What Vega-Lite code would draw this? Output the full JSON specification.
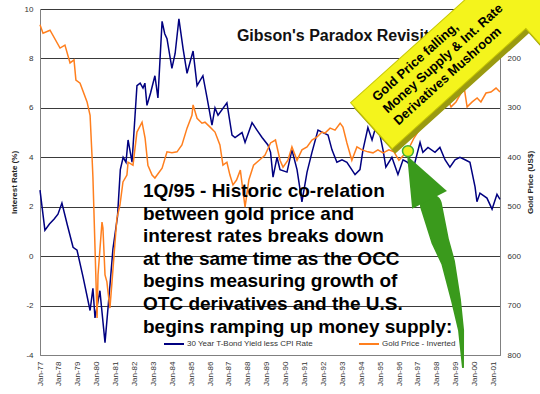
{
  "$schema": "https://vega.github.io/schema/vega-lite/v6.json",
  "width": 460,
  "height": 346,
  "autosize": "none",
  "padding": {"left": 40, "top": 9, "right": 40, "bottom": 39},
  "background": "white",
  "config": {
    "view": {"stroke": null},
    "font": "Liberation Sans",
    "axis": {"labelColor": "#333333", "titleColor": "#222222", "domainColor": "#808080", "ticks": false, "labelFontSize": 8, "titleFontSize": 8, "titleFontWeight": "bold"},
    "axisX": {"labelOverlap": false, "labelSeparation": 0, "labelBound": false}
  },
  "datasets": {
    "blue": [
      {"year":1977.00,"rate":2.67},{"year":1977.26,"rate":1.05},{"year":1977.50,"rate":1.3},{"year":1977.75,"rate":1.5},
      {"year":1977.95,"rate":1.7},{"year":1978.16,"rate":2.15},{"year":1978.45,"rate":1.25},{"year":1978.75,"rate":0.36},
      {"year":1978.96,"rate":0.24},{"year":1979.28,"rate":-0.85},{"year":1979.65,"rate":-2.2},{"year":1979.80,"rate":-1.3},
      {"year":1979.91,"rate":-2.5},{"year":1980.17,"rate":-1.4},{"year":1980.44,"rate":-3.5},{"year":1980.70,"rate":-1.2},
      {"year":1980.86,"rate":0.3},{"year":1981.10,"rate":1.6},{"year":1981.25,"rate":3.5},{"year":1981.40,"rate":4.0},
      {"year":1981.55,"rate":3.8},{"year":1981.66,"rate":4.7},{"year":1981.87,"rate":3.8},{"year":1982.13,"rate":6.9},
      {"year":1982.30,"rate":7.0},{"year":1982.45,"rate":6.8},{"year":1982.55,"rate":7.0},{"year":1982.66,"rate":6.1},
      {"year":1982.85,"rate":6.6},{"year":1983.08,"rate":7.3},{"year":1983.24,"rate":6.4},{"year":1983.46,"rate":9.5},
      {"year":1983.60,"rate":9.0},{"year":1983.72,"rate":8.8},{"year":1983.98,"rate":7.6},{"year":1984.15,"rate":8.2},
      {"year":1984.35,"rate":9.6},{"year":1984.57,"rate":8.4},{"year":1984.78,"rate":7.4},{"year":1985.10,"rate":8.3},
      {"year":1985.31,"rate":6.9},{"year":1985.62,"rate":7.3},{"year":1985.84,"rate":6.4},{"year":1986.10,"rate":5.3},
      {"year":1986.26,"rate":6.0},{"year":1986.42,"rate":5.7},{"year":1986.89,"rate":6.2},{"year":1987.16,"rate":4.9},
      {"year":1987.32,"rate":4.8},{"year":1987.69,"rate":5.0},{"year":1987.85,"rate":4.6},{"year":1988.22,"rate":5.4},
      {"year":1988.48,"rate":5.1},{"year":1988.75,"rate":4.8},{"year":1989.06,"rate":4.5},{"year":1989.20,"rate":4.2},
      {"year":1989.33,"rate":3.2},{"year":1989.54,"rate":4.0},{"year":1989.70,"rate":3.5},{"year":1990.07,"rate":3.4},
      {"year":1990.33,"rate":4.3},{"year":1990.60,"rate":3.5},{"year":1990.86,"rate":2.2},{"year":1991.13,"rate":3.4},
      {"year":1991.39,"rate":4.2},{"year":1991.71,"rate":5.1},{"year":1991.97,"rate":5.0},{"year":1992.24,"rate":4.9},
      {"year":1992.45,"rate":4.3},{"year":1992.71,"rate":3.8},{"year":1992.98,"rate":3.9},{"year":1993.24,"rate":3.8},
      {"year":1993.67,"rate":3.3},{"year":1993.93,"rate":3.5},{"year":1994.09,"rate":4.3},{"year":1994.35,"rate":5.2},
      {"year":1994.57,"rate":4.7},{"year":1994.83,"rate":5.4},{"year":1994.99,"rate":4.9},{"year":1995.15,"rate":4.3},
      {"year":1995.30,"rate":3.6},{"year":1995.62,"rate":4.0},{"year":1995.94,"rate":3.3},{"year":1996.21,"rate":3.9},
      {"year":1996.45,"rate":3.8},{"year":1996.74,"rate":3.5},{"year":1997.11,"rate":4.6},{"year":1997.26,"rate":4.2},
      {"year":1997.53,"rate":4.4},{"year":1997.90,"rate":4.2},{"year":1998.16,"rate":4.4},{"year":1998.43,"rate":3.9},
      {"year":1998.69,"rate":3.6},{"year":1998.96,"rate":3.9},{"year":1999.22,"rate":4.0},{"year":1999.49,"rate":3.9},
      {"year":1999.75,"rate":3.8},{"year":2000.02,"rate":2.8},{"year":2000.12,"rate":2.2},{"year":2000.28,"rate":2.55},
      {"year":2000.65,"rate":2.35},{"year":2000.92,"rate":1.9},{"year":2001.18,"rate":2.5},{"year":2001.34,"rate":2.3}
    ],
    "gold": [
      {"year":1977.00,"gold":132},{"year":1977.16,"gold":149},{"year":1977.53,"gold":143},{"year":1978.06,"gold":179},
      {"year":1978.32,"gold":173},{"year":1978.59,"gold":209},{"year":1978.80,"gold":203},{"year":1978.90,"gold":244},
      {"year":1979.12,"gold":250},{"year":1979.49,"gold":288},{"year":1979.65,"gold":315},{"year":1979.75,"gold":396},
      {"year":1979.80,"gold":440},{"year":1980.02,"gold":725},{"year":1980.07,"gold":638},{"year":1980.28,"gold":531},
      {"year":1980.33,"gold":543},{"year":1980.44,"gold":638},{"year":1980.54,"gold":652},{"year":1980.60,"gold":673},
      {"year":1980.70,"gold":705},{"year":1980.81,"gold":652},{"year":1980.97,"gold":572},{"year":1981.07,"gold":523},
      {"year":1981.23,"gold":497},{"year":1981.39,"gold":450},{"year":1981.60,"gold":436},{"year":1981.66,"gold":410},
      {"year":1981.92,"gold":416},{"year":1982.13,"gold":349},{"year":1982.40,"gold":329},{"year":1982.56,"gold":361},
      {"year":1982.71,"gold":416},{"year":1982.93,"gold":436},{"year":1983.08,"gold":442},{"year":1983.46,"gold":422},
      {"year":1983.72,"gold":389},{"year":1983.98,"gold":391},{"year":1984.25,"gold":389},{"year":1984.51,"gold":375},
      {"year":1984.78,"gold":341},{"year":1985.04,"gold":315},{"year":1985.10,"gold":294},{"year":1985.31,"gold":321},
      {"year":1985.57,"gold":331},{"year":1985.73,"gold":329},{"year":1986.00,"gold":339},{"year":1986.26,"gold":349},
      {"year":1986.52,"gold":375},{"year":1986.68,"gold":416},{"year":1986.89,"gold":410},{"year":1987.05,"gold":436},
      {"year":1987.21,"gold":456},{"year":1987.40,"gold":446},{"year":1987.60,"gold":426},{"year":1987.85,"gold":501},
      {"year":1988.05,"gold":446},{"year":1988.30,"gold":416},{"year":1988.60,"gold":406},{"year":1988.90,"gold":396},
      {"year":1989.20,"gold":371},{"year":1989.46,"gold":365},{"year":1989.70,"gold":406},{"year":1989.86,"gold":420},
      {"year":1990.12,"gold":406},{"year":1990.33,"gold":379},{"year":1990.60,"gold":406},{"year":1990.86,"gold":385},
      {"year":1991.13,"gold":379},{"year":1991.39,"gold":365},{"year":1991.66,"gold":359},{"year":1991.92,"gold":349},
      {"year":1992.08,"gold":351},{"year":1992.35,"gold":341},{"year":1992.61,"gold":345},{"year":1992.88,"gold":331},
      {"year":1993.03,"gold":339},{"year":1993.24,"gold":371},{"year":1993.50,"gold":406},{"year":1993.77,"gold":379},
      {"year":1994.04,"gold":385},{"year":1994.35,"gold":389},{"year":1994.62,"gold":391},{"year":1994.88,"gold":385},
      {"year":1995.15,"gold":391},{"year":1995.46,"gold":385},{"year":1995.73,"gold":389},{"year":1995.99,"gold":406},
      {"year":1996.26,"gold":395},{"year":1996.53,"gold":381},{"year":1996.79,"gold":361},{"year":1997.06,"gold":345},
      {"year":1997.32,"gold":335},{"year":1997.59,"gold":318},{"year":1997.75,"gold":300},{"year":1998.01,"gold":304},
      {"year":1998.27,"gold":298},{"year":1998.54,"gold":280},{"year":1998.75,"gold":298},{"year":1999.01,"gold":288},
      {"year":1999.28,"gold":270},{"year":1999.44,"gold":258},{"year":1999.60,"gold":298},{"year":1999.87,"gold":288},
      {"year":2000.13,"gold":280},{"year":2000.33,"gold":288},{"year":2000.60,"gold":270},{"year":2000.86,"gold":268},
      {"year":2001.13,"gold":260},{"year":2001.34,"gold":268}
    ],
    "titleText": [{"year": 1987.42, "rate": 8.70, "label": "Gibson's Paradox Revisited"}],
    "note": [{"year": 1982.45, "rate": 2.39, "label": "1Q/95 - Historic co-relation\nbetween gold price and\ninterest rates breaks down\nat the same time as the OCC\nbegins measuring growth of\nOTC derivatives and the U.S.\nbegins ramping up money supply:"}],
    "bigArrow": [{"year": 1999.45, "rate": 8.66}],
    "arrowText": [{"year": 1994.83, "rate": 6.24, "label": "Gold Price falling,\nMoney Supply & Int. Rate\nDerivatives Mushroom"}],
    "shaft": [
      {"year": 1997.69, "rate": 2.06, "step": 0},
      {"year": 1998.16, "rate": 0.65, "step": 1},
      {"year": 1998.59, "rate": -0.24, "step": 2},
      {"year": 1999.01, "rate": -1.78, "step": 3},
      {"year": 1999.28, "rate": -3.0, "step": 4},
      {"year": 1999.38, "rate": -4.49, "step": 5}
    ],
    "head": [{"year": 1997.05, "rate": 3.12}],
    "marker": [{"year": 1996.47, "rate": 4.25}]
  },
  "layer": [
    {
      "data": {"name": "blue"},
      "mark": {"type": "line", "strokeWidth": 1.5},
      "encoding": {
        "x": {
          "field": "year", "type": "quantitative",
          "scale": {"domain": [1977, 2001.34], "nice": false, "zero": false},
          "axis": {"values": [1977,1978,1979,1980,1981,1982,1983,1984,1985,1986,1987,1988,1989,1990,1991,1992,1993,1994,1995,1996,1997,1998,1999,2000,2001],
                   "tickCount": 40,
                   "labelExpr": "'Jan-' + substring(toString(datum.value), 2, 4)",
                   "labelAngle": 270, "title": null, "grid": false, "labelPadding": 6, "labelOverlap": false, "labelFlush": false}
        },
        "y": {
          "field": "rate", "type": "quantitative",
          "scale": {"domain": [-4, 10], "nice": false, "zero": false},
          "axis": {"values": [-4,-2,0,2,4,6,8,10], "tickCount": 20, "labelExpr": "toString(datum.value)", "title": "Interest Rate (%)", "grid": true, "gridColor": "#3a3a3a", "gridWidth": 1, "labelPadding": 7, "titlePadding": 6, "labelFlush": false}
        },
        "color": {
          "datum": "30 Year T-Bond Yield less CPI Rate",
          "scale": {"domain": ["30 Year T-Bond Yield less CPI Rate", "Gold Price - Inverted"], "range": ["#000080", "#ff7f1e"]},
          "legend": {"orient": "none", "legendX": 123, "legendY": 324, "direction": "horizontal", "title": null,
                     "labelFontSize": 8, "labelColor": "#333333", "symbolType": "stroke", "symbolSize": 400, "symbolStrokeWidth": 2,
                     "columnPadding": 41, "labelOffset": 2, "padding": 0}
        }
      }
    },
    {
      "data": {"name": "gold"},
      "mark": {"type": "line", "strokeWidth": 1.5},
      "encoding": {
        "x": {"field": "year", "type": "quantitative"},
        "y": {
          "field": "gold", "type": "quantitative",
          "scale": {"domain": [100, 800], "reverse": true, "nice": false, "zero": false},
          "axis": {"orient": "right", "values": [200,300,400,500,600,700,800], "tickCount": 20, "labelExpr": "toString(datum.value)", "title": "Gold Price (US$)", "titleAngle": 270, "titleBaseline": "top",
                   "grid": false, "labelPadding": 7, "titlePadding": 6, "labelFlush": false}
        },
        "color": {"datum": "Gold Price - Inverted"}
      }
    },
    {
      "layer": [
        {
          "data": {"name": "titleText"},
          "mark": {"type": "text", "fontSize": 16, "fontWeight": "bold", "align": "left", "baseline": "alphabetic", "color": "#111111"},
          "encoding": {
            "x": {"field": "year", "type": "quantitative"},
            "y": {"field": "rate", "type": "quantitative", "scale": {"domain": [-4, 10], "nice": false, "zero": false}, "axis": null},
            "text": {"field": "label"}
          }
        },
        {
          "data": {"name": "note"},
          "mark": {"type": "text", "fontSize": 19, "fontWeight": "bold", "align": "left", "baseline": "alphabetic", "lineBreak": "\n", "lineHeight": 22.6, "color": "#000000"},
          "encoding": {
            "x": {"field": "year", "type": "quantitative"},
            "y": {"field": "rate", "type": "quantitative", "axis": null},
            "text": {"field": "label"}
          }
        },
        {
          "data": {"name": "bigArrow"},
          "mark": {"type": "point", "filled": true, "opacity": 1, "color": "#9a9a10", "size": 40000, "angle": -42, "xOffset": 3, "yOffset": 5,
                   "shape": "M-1.25,-0.31L0.55,-0.31L0.55,-0.6L1.15,0L0.55,0.6L0.55,0.31L-1.25,0.31Z"},
          "encoding": {
            "x": {"field": "year", "type": "quantitative"},
            "y": {"field": "rate", "type": "quantitative", "axis": null}
          }
        },
        {
          "data": {"name": "bigArrow"},
          "mark": {"type": "point", "filled": true, "opacity": 1, "color": "#f4f41c", "stroke": "#c8c800", "strokeWidth": 1, "size": 40000, "angle": -42,
                   "shape": "M-1.25,-0.31L0.55,-0.31L0.55,-0.6L1.15,0L0.55,0.6L0.55,0.31L-1.25,0.31Z"},
          "encoding": {
            "x": {"field": "year", "type": "quantitative"},
            "y": {"field": "rate", "type": "quantitative", "axis": null}
          }
        },
        {
          "data": {"name": "arrowText"},
          "mark": {"type": "text", "fontSize": 13, "fontWeight": "bold", "align": "left", "baseline": "alphabetic", "lineBreak": "\n", "lineHeight": 16, "angle": -42, "color": "#000000"},
          "encoding": {
            "x": {"field": "year", "type": "quantitative"},
            "y": {"field": "rate", "type": "quantitative", "axis": null},
            "text": {"field": "label"}
          }
        },
        {
          "data": {"name": "shaft"},
          "mark": {"type": "trail", "color": "#3a9a1c"},
          "encoding": {
            "x": {"field": "year", "type": "quantitative"},
            "y": {"field": "rate", "type": "quantitative", "axis": null},
            "order": {"field": "step", "type": "quantitative"},
            "size": {"field": "step", "type": "quantitative", "scale": {"domain": [0, 5], "range": [22, 2]}, "legend": null}
          }
        },
        {
          "data": {"name": "head"},
          "mark": {"type": "point", "filled": true, "opacity": 1, "color": "#3a9a1c", "size": 2704, "angle": -27,
                   "shape": "M0,-1L0.75,0.9L-0.75,0.9Z"},
          "encoding": {
            "x": {"field": "year", "type": "quantitative"},
            "y": {"field": "rate", "type": "quantitative", "axis": null}
          }
        },
        {
          "data": {"name": "marker"},
          "mark": {"type": "point", "filled": true, "opacity": 1, "color": "#f0f020", "stroke": "#40b030", "strokeWidth": 1.5, "size": 120, "shape": "circle"},
          "encoding": {
            "x": {"field": "year", "type": "quantitative"},
            "y": {"field": "rate", "type": "quantitative", "axis": null}
          }
        }
      ]
    }
  ],
  "resolve": {"scale": {"y": "independent"}}
}
